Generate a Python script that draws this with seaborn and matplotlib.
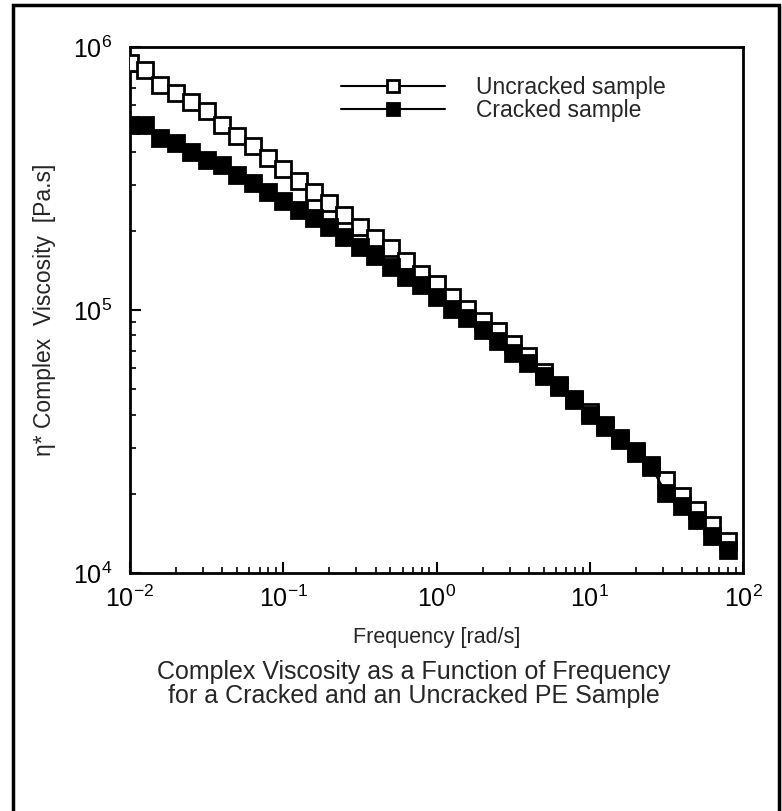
import matplotlib
matplotlib.use("Agg")
import matplotlib.pyplot as plt
import matplotlib.ticker as mticker
from matplotlib.patches import Rectangle
import numpy as np
import seaborn as sns

# ---- data ----
frequency = [0.01, 0.0126, 0.0158, 0.02, 0.0251, 0.0316, 0.0398, 0.0501, 0.0631, 0.0794,
             0.1, 0.126, 0.158, 0.2, 0.251, 0.316, 0.398, 0.501, 0.631, 0.794,
             1.0, 1.26, 1.58, 2.0, 2.51, 3.16, 3.98, 5.01, 6.31, 7.94,
             10.0, 12.6, 15.8, 20.0, 25.1, 31.6, 39.8, 50.1, 63.1, 79.4]

uncracked = [8.7e5, 8.2e5, 7.2e5, 6.7e5, 6.2e5, 5.7e5, 5.05e5, 4.6e5, 4.2e5, 3.8e5,
             3.45e5, 3.1e5, 2.82e5, 2.55e5, 2.3e5, 2.07e5, 1.88e5, 1.72e5, 1.53e5, 1.37e5,
             1.26e5, 1.12e5, 1.01e5, 9.1e4, 8.3e4, 7.4e4, 6.7e4, 5.8e4, 5.2e4, 4.6e4,
             4.1e4, 3.65e4, 3.25e4, 2.9e4, 2.57e4, 2.26e4, 1.96e4, 1.74e4, 1.52e4, 1.32e4]

cracked = [5.05e5, 5.05e5, 4.5e5, 4.3e5, 4.0e5, 3.72e5, 3.55e5, 3.26e5, 3.03e5, 2.8e5,
           2.6e5, 2.4e5, 2.23e5, 2.07e5, 1.9e5, 1.74e5, 1.6e5, 1.46e5, 1.34e5, 1.24e5,
           1.12e5, 1.01e5, 9.3e4, 8.4e4, 7.6e4, 6.85e4, 6.27e4, 5.6e4, 5.1e4, 4.55e4,
           4.0e4, 3.6e4, 3.2e4, 2.85e4, 2.53e4, 2.01e4, 1.79e4, 1.59e4, 1.38e4, 1.22e4]

series_labels = ["Uncracked sample", "Cracked sample"]
x_ticks = [0.01, 0.1, 1, 10, 100]
x_tick_labels = ["10$^{-2}$", "10$^{-1}$", "10$^{0}$", "10$^{1}$", "10$^{2}$"]
y_ticks = [1e4, 1e5, 1e6]
y_tick_labels = ["10$^{4}$", "10$^{5}$", "10$^{6}$"]
x_label = "Frequency [rad/s]"
y_label = "η* Complex  Viscosity  [Pa.s]"
caption = "Complex Viscosity as a Function of Frequency\nfor a Cracked and an Uncracked PE Sample"

# ---- style ----
sns.set_style("ticks")
plt.rcParams["font.family"] = ["Liberation Sans", "DejaVu Sans"]
plt.rcParams["mathtext.fontset"] = "custom"
plt.rcParams["mathtext.rm"] = "Liberation Sans"
plt.rcParams["mathtext.it"] = "Liberation Sans"
plt.rcParams["mathtext.default"] = "rm"

fig = plt.figure(figsize=(7.82, 8.11), dpi=100)
ax = fig.add_axes([130 / 782, 1 - 573 / 811, (743 - 130) / 782, (573 - 47) / 811])

sns.lineplot(x=frequency, y=uncracked, ax=ax, color="black", linewidth=1.5,
             marker="s", markersize=11.5, markerfacecolor="white",
             markeredgecolor="black", markeredgewidth=2.0,
             label=series_labels[0], zorder=3)
sns.lineplot(x=frequency, y=cracked, ax=ax, color="black", linewidth=1.5,
             marker="s", markersize=11.5, markerfacecolor="black",
             markeredgecolor="black", markeredgewidth=2.0,
             label=series_labels[1], zorder=4)

ax.set_xscale("log")
ax.set_yscale("log")
ax.set_xlim(0.01, 100)
ax.set_ylim(1e4, 1e6)

for s in ax.spines.values():
    s.set_linewidth(2.0)
    s.set_color("black")

ax.set_xticks(x_ticks)
ax.set_xticklabels(x_tick_labels, fontsize=18)
ax.set_yticks(y_ticks)
ax.set_yticklabels(y_tick_labels, fontsize=18)
ax.xaxis.set_minor_locator(mticker.LogLocator(base=10, subs=np.arange(2, 10)))
ax.yaxis.set_minor_locator(mticker.LogLocator(base=10, subs=np.arange(2, 10)))
ax.xaxis.set_minor_formatter(mticker.NullFormatter())
ax.yaxis.set_minor_formatter(mticker.NullFormatter())
ax.tick_params(which="major", direction="in", length=8, width=1.5,
               top=False, right=False, colors="black")
ax.tick_params(which="minor", direction="in", length=4, width=1.2,
               top=False, right=False, colors="black")
ax.tick_params(axis="x", which="major", pad=9)
ax.tick_params(axis="y", which="major", pad=13)

ax.set_xlabel(x_label, fontsize=15.5, labelpad=11)
ax.set_ylabel(y_label, fontsize=16.5, labelpad=12)

leg = ax.legend(loc="upper left", bbox_to_anchor=(0.33, 0.962), frameon=False,
                fontsize=16.5, handlelength=4.5, handletextpad=1.35,
                labelspacing=0.0, borderaxespad=0, markerscale=0.8)

fig.text(414 / 782, 1 - 684 / 811, caption, ha="center", va="center",
         fontsize=18, linespacing=1.05)

# outer frame of the figure panel
fig.add_artist(Rectangle((13 / 782, -0.05), (779 - 13) / 782, 1.05 - 5 / 811,
                         transform=fig.transFigure, fill=False,
                         edgecolor="black", linewidth=2.5))

fig.savefig("out.png", dpi=100)
